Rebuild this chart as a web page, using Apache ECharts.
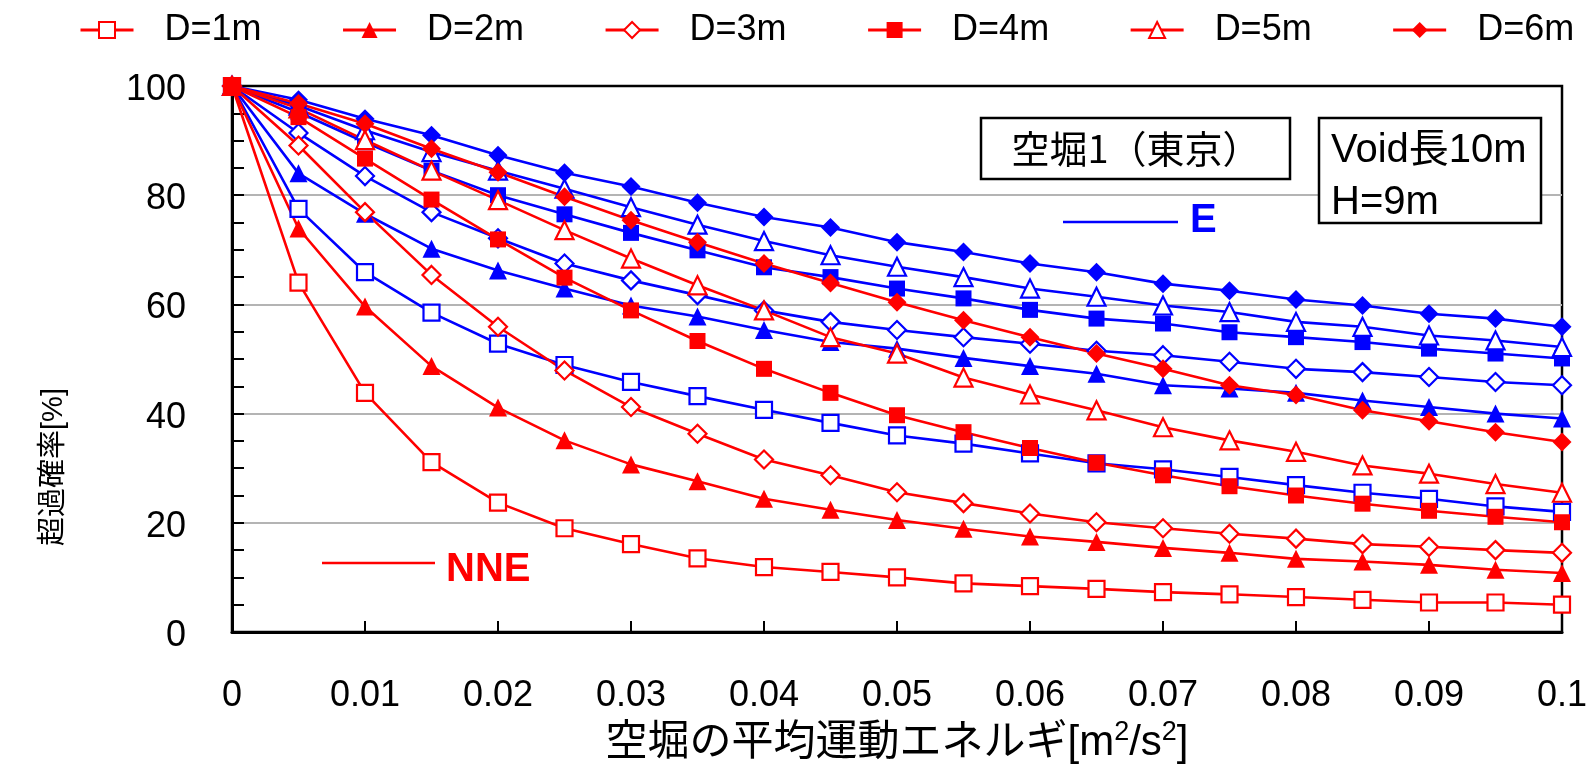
<!DOCTYPE html>
<html><head><meta charset="utf-8">
<script src="https://cdn.jsdelivr.net/npm/echarts@6/dist/echarts.min.js"></script>
<style>html,body{margin:0;padding:0;background:#fff}#c{width:1596px;height:766px}</style>
</head><body><div id="c"></div>
<script>
const xs = [0, 0.005, 0.01, 0.015, 0.02, 0.025, 0.03, 0.035, 0.04, 0.045, 0.05, 0.055, 0.06, 0.065, 0.07, 0.075, 0.08, 0.085, 0.09, 0.095, 0.1];
const xTickLabels = ['0','0.01','0.02','0.03','0.04','0.05','0.06','0.07','0.08','0.09','0.1'];
const legendNames = ['D=1m','D=2m','D=3m','D=4m','D=5m','D=6m'];

// NNE (red)
const nne1 = [100, 64.0, 43.8, 31.1, 23.7, 19.0, 16.1, 13.5, 11.9, 11.0, 10.0, 8.9, 8.4, 7.9, 7.3, 6.9, 6.4, 5.9, 5.4, 5.4, 5.0];
const nne2 = [100, 73.9, 59.6, 48.7, 41.1, 35.1, 30.7, 27.6, 24.4, 22.4, 20.5, 18.9, 17.5, 16.5, 15.4, 14.5, 13.4, 12.9, 12.3, 11.4, 10.8];
const nne3 = [100, 89.1, 76.9, 65.4, 55.9, 47.9, 41.2, 36.3, 31.6, 28.7, 25.6, 23.6, 21.7, 20.1, 19.0, 18.0, 17.1, 16.1, 15.6, 15.0, 14.5];
const nne4 = [100, 94.3, 86.7, 79.2, 71.9, 64.9, 58.9, 53.3, 48.2, 43.8, 39.7, 36.6, 33.7, 31.0, 28.7, 26.7, 25.0, 23.5, 22.2, 21.1, 20.1];
const nne5 = [100, 95.9, 90.1, 84.5, 79.1, 73.6, 68.4, 63.5, 58.9, 54.0, 51.0, 46.6, 43.5, 40.6, 37.5, 35.1, 33.0, 30.5, 29.0, 27.1, 25.5];
const nne6 = [100, 96.8, 93.1, 88.5, 84.2, 79.7, 75.4, 71.4, 67.5, 63.9, 60.4, 57.1, 54.0, 51.0, 48.2, 45.2, 43.4, 40.6, 38.6, 36.6, 34.8];
// E (blue)
const e1 = [100, 77.5, 65.9, 58.5, 52.8, 48.9, 45.8, 43.2, 40.7, 38.3, 36.0, 34.5, 32.7, 30.9, 29.8, 28.4, 26.9, 25.5, 24.4, 23.0, 22.0];
const e2 = [100, 84.0, 76.6, 70.2, 66.2, 62.9, 59.8, 57.8, 55.3, 53.1, 51.9, 50.2, 48.7, 47.3, 45.2, 44.6, 43.8, 42.4, 41.2, 40.0, 39.1];
const e3 = [100, 91.4, 83.5, 76.9, 72.1, 67.5, 64.4, 61.7, 58.9, 56.8, 55.3, 54.0, 52.8, 51.5, 50.7, 49.5, 48.2, 47.6, 46.7, 45.8, 45.2];
const e4 = [100, 95.2, 89.7, 84.5, 80.0, 76.5, 73.1, 69.9, 66.8, 65.0, 62.9, 61.1, 59.0, 57.4, 56.5, 54.9, 54.0, 53.1, 51.9, 51.0, 50.1];
const e5 = [100, 96.4, 91.9, 87.9, 84.5, 81.2, 77.8, 74.6, 71.6, 69.0, 66.9, 65.0, 62.9, 61.4, 59.8, 58.6, 56.8, 55.9, 54.3, 53.4, 52.2];
const e6 = [100, 97.5, 94.0, 91.0, 87.3, 84.1, 81.6, 78.6, 76.0, 74.1, 71.4, 69.6, 67.5, 65.9, 63.8, 62.5, 60.9, 59.8, 58.3, 57.4, 55.9];

const RED = '#ff0000', BLUE = '#0000ff';
const symbols = ['rect','triangle','diamond','rect','triangle','diamond'];
const hollow = [true,false,true,false,true,false];
const sizes = [16,18,18,16,18,19];

function mk(name, vals, i, color) {
  return {
    name: name, type: 'line', showAllSymbol: true,
    data: xs.map((x, k) => [x, vals[k]]),
    symbol: symbols[i], symbolSize: sizes[i],
    lineStyle: { color: color, width: 2.6 },
    itemStyle: hollow[i] ? { color: '#fff', borderColor: color, borderWidth: 2.2 } : { color: color, borderColor: color, borderWidth: 0 },
    emphasis: { disabled: true }
  };
}
const series = [];
[e1,e2,e3,e4,e5,e6].forEach((v,i)=>series.push(mk('E ' + legendNames[i], v, i, BLUE)));
const redData = [nne1,nne2,nne3,nne4,nne5,nne6];
[0,1,2,4,5,3].forEach(i=>series.push(mk(legendNames[i], redData[i], i, RED)));

const FONT = "'Liberation Sans', 'Noto Sans CJK JP', sans-serif";
const chart = echarts.init(document.getElementById('c'));
chart.setOption({
  animation: false,
  backgroundColor: '#fff',
  textStyle: { fontFamily: FONT },
  legend: {
    data: legendNames, left: 74, top: 7, itemWidth: 53, itemHeight: 20, itemGap: 80,
    lineStyle: { width: 3 },
    textStyle: { fontSize: 36, color: '#000', fontFamily: FONT, padding: [0,0,0,26] }
  },
  grid: { left: 232, right: 34, top: 86, bottom: 134, show: true, borderColor: '#000', borderWidth: 2.5, containLabel: false, outerBoundsMode: 'none' },
  xAxis: {
    type: 'value', min: 0, max: 0.1, interval: 0.01,
    name: '空堀の平均運動エネルギ[m{sup|2}/s{sup|2}]', nameLocation: 'middle', nameGap: 84,
    nameTextStyle: { fontSize: 42, color: '#000', fontFamily: FONT,
      rich: { sup: { fontSize: 27, fontFamily: FONT, color: '#000', padding: [0, 0, 22, 0] } } },
    axisLine: { show: true, lineStyle: { color: '#000', width: 3 } },
    axisTick: { show: true, inside: true, length: 11, lineStyle: { color: '#000', width: 2 } },
    axisLabel: { fontSize: 36, color: '#000', margin: 46, formatter: v => xTickLabels[Math.round(v * 100)] },
    splitLine: { show: false }
  },
  yAxis: {
    type: 'value', min: 0, max: 100, interval: 20,
    axisLine: { show: true, lineStyle: { color: '#000', width: 3 } },
    axisTick: { show: true, inside: true, length: 12, lineStyle: { color: '#000', width: 2 } },
    minorTick: { show: true, splitNumber: 4, length: 12, lineStyle: { color: '#000', width: 2 } },
    axisLabel: { color: '#000', margin: 46, formatter: v => '{a|' + v + '}',
      rich: { a: { fontSize: 36, color: '#000', fontFamily: FONT, padding: [8, 0, 0, 0] } } },
    splitLine: { show: true, lineStyle: { color: ['rgba(0,0,0,0)', '#b4b4b4', '#b4b4b4', '#b4b4b4', '#b4b4b4', 'rgba(0,0,0,0)'], width: 2 } }
  },
  graphic: [
    { type: 'text', x: 54, y: 467, rotation: Math.PI / 2, style: { text: '超過確率[%]', fontSize: 29, fontFamily: FONT, fill: '#000', align: 'center', verticalAlign: 'middle' }, z: 11 },
    { type: 'rect', shape: { x: 981, y: 118, width: 309, height: 61 }, style: { fill: '#fff', stroke: '#000', lineWidth: 2.5 }, z: 10 },
    { type: 'text', x: 1136, y: 149, style: { text: '空堀1（東京）', fontSize: 38, fontFamily: "'Noto Sans CJK JP', sans-serif", fill: '#000', align: 'center', verticalAlign: 'middle' }, z: 11 },
    { type: 'rect', shape: { x: 1319, y: 118, width: 222, height: 105 }, style: { fill: '#fff', stroke: '#000', lineWidth: 2.5 }, z: 10 },
    { type: 'text', x: 1331, y: 151, style: { text: 'Void長10m', fontSize: 40, fontFamily: FONT, fill: '#000', align: 'left', verticalAlign: 'middle' }, z: 11 },
    { type: 'text', x: 1331, y: 203, style: { text: 'H=9m', fontSize: 40, fontFamily: FONT, fill: '#000', align: 'left', verticalAlign: 'middle' }, z: 11 },
    { type: 'line', shape: { x1: 1063, y1: 222, x2: 1178, y2: 222 }, style: { stroke: BLUE, lineWidth: 2.5 }, z: 11 },
    { type: 'text', x: 1190, y: 221, style: { text: 'E', fontSize: 40, fontWeight: 'bold', fontFamily: FONT, fill: BLUE, align: 'left', verticalAlign: 'middle' }, z: 11 },
    { type: 'line', shape: { x1: 322, y1: 563, x2: 435, y2: 563 }, style: { stroke: RED, lineWidth: 2.5 }, z: 11 },
    { type: 'text', x: 446, y: 570, style: { text: 'NNE', fontSize: 40, fontWeight: 'bold', fontFamily: FONT, fill: RED, align: 'left', verticalAlign: 'middle' }, z: 11 }
  ],
  series: series
});
</script></body></html>
